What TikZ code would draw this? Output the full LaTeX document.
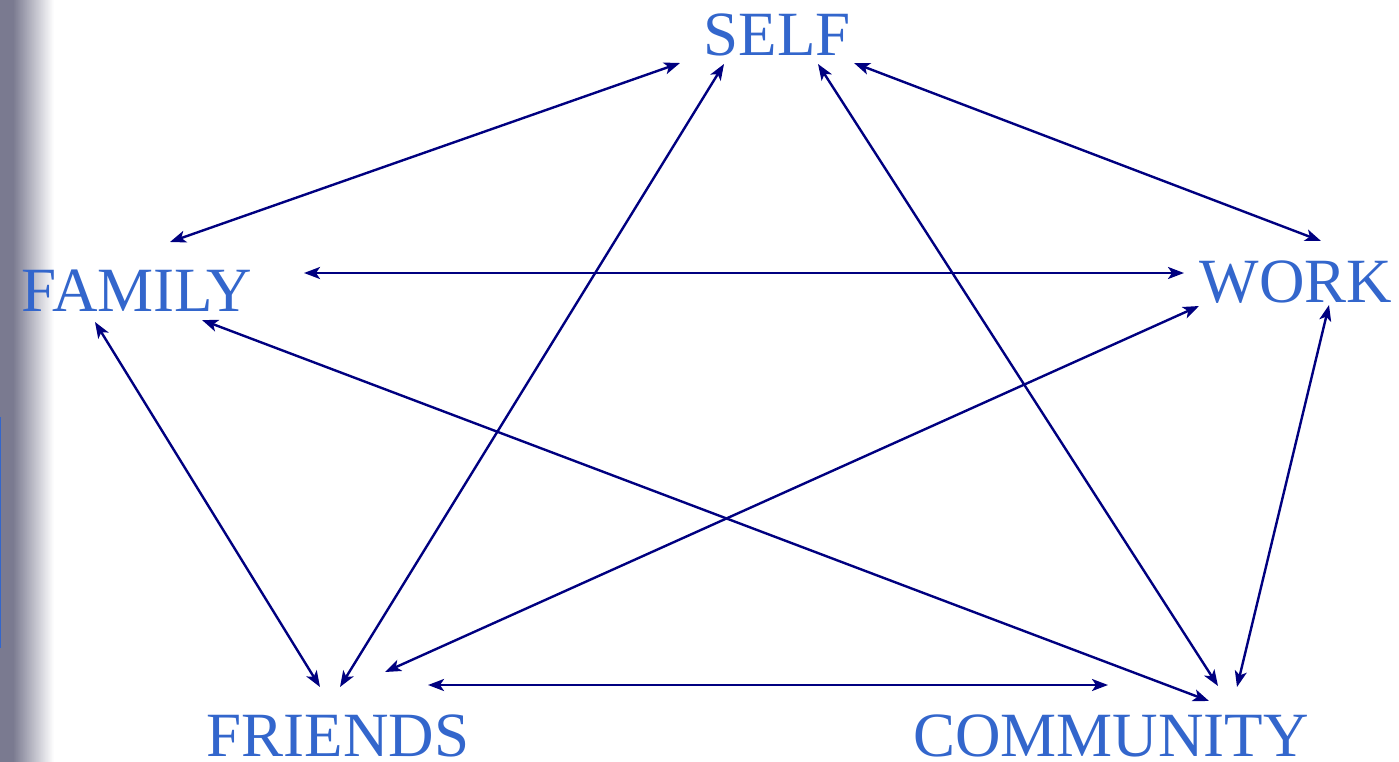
\documentclass[tikz,border=0pt]{standalone}
\usepackage{fontspec}
\setmainfont{Liberation Serif}
\usetikzlibrary{arrows.meta}
\definecolor{bleutexte}{RGB}{51,102,204}
\definecolor{bleufleche}{RGB}{0,0,128}
\definecolor{grisbord}{RGB}{122,122,144}
\begin{document}
\begin{tikzpicture}[x=1pt,y=-1pt]
	% Styles
	\tikzstyle{fleche}=[{Stealth[length=16pt,width=12pt,inset=4pt]}-{Stealth[length=16pt,width=12pt,inset=4pt]},bleufleche,line width=2.4pt]
	\tikzstyle{mot}=[bleutexte,inner sep=0pt,anchor=base,font=\fontsize{63}{70}\selectfont]
	% Cadre et bord gauche
	\useasboundingbox (0,0) rectangle (1399,762);
	\fill[white] (0,0) rectangle (1399,762);
	\fill[grisbord] (0,0) rectangle (13,762);
	\foreach \i in {0,...,41}{
		\pgfmathtruncatemacro{\p}{100-\i*100/41}
		\fill[grisbord!\p!white] (12.5+\i,0) rectangle (13.6+\i,762);
	}
	\draw[bleutexte,line width=1.2pt] (0.6,417) -- (0.6,648);
	% Noeuds
	\node[mot] (S) at (777,56) {SELF};
	\node[mot] (Fa) at (137,311) {FAMILY};
	\node[mot] (W) at (1296,302) {WORK};
	\node[mot] (Fr) at (338,756) {FRIENDS};
	\node[mot] (C) at (1111,756) {COMMUNITY};
	% Extremites des arcs
	\coordinate (S1) at (680,63);   \coordinate (Fa1) at (170,242);
	\coordinate (S2) at (724,64);   \coordinate (Fr1) at (340,687);
	\coordinate (S3) at (818,64);   \coordinate (C1) at (1218,686);
	\coordinate (S4) at (854,63);   \coordinate (W1) at (1321,241);
	\coordinate (Fa2) at (304,273); \coordinate (W2) at (1184,273);
	\coordinate (Fa3) at (95,322);  \coordinate (Fr2) at (320,687);
	\coordinate (Fa4) at (202,320); \coordinate (C2) at (1209,701);
	\coordinate (W3) at (1199,306); \coordinate (Fr3) at (385,672);
	\coordinate (W4) at (1329,305); \coordinate (C3) at (1237,687);
	\coordinate (Fr4) at (428,685); \coordinate (C4) at (1108,685);
	% Arcs
	\draw[fleche] (S1)--(Fa1);
	\draw[fleche] (S2)--(Fr1);
	\draw[fleche] (S3)--(C1);
	\draw[fleche] (S4)--(W1);
	\draw[fleche] (Fa2)--(W2);
	\draw[fleche] (Fa3)--(Fr2);
	\draw[fleche] (Fa4)--(C2);
	\draw[fleche] (W3)--(Fr3);
	\draw[fleche] (W4)--(C3);
	\draw[fleche] (Fr4)--(C4);
\end{tikzpicture}
\end{document}
